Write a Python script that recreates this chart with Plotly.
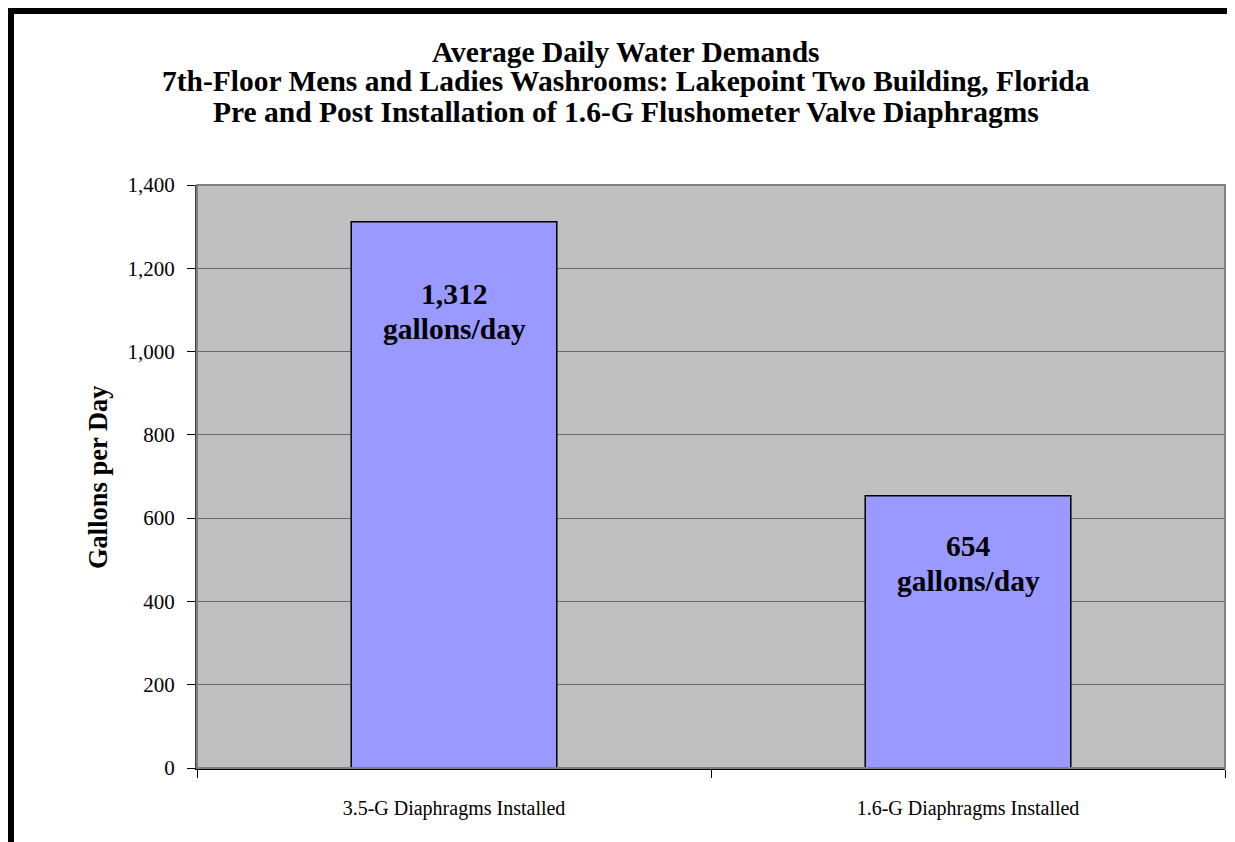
import plotly.graph_objects as go

categories = ["3.5-G Diaphragms Installed", "1.6-G Diaphragms Installed"]
values = [1312, 654]
value_labels = ["1,312", "654"]
unit_label = "gallons/day"
y_ticks = [0, 200, 400, 600, 800, 1000, 1200, 1400]
y_tick_labels = ["0", "200", "400", "600", "800", "1,000", "1,200", "1,400"]

title_lines = [
    "Average Daily Water Demands",
    "7th-Floor Mens and Ladies Washrooms: Lakepoint Two Building, Florida",
    "Pre and Post Installation of 1.6-G Flushometer Valve Diaphragms",
]

# page has an 8px body margin; figure sized to fit the window
OFF = 8
W, H = 1235 - OFF, 842 - OFF
L, R, T, B = 197 - OFF, 10, 185 - OFF, 74
pw = W - L - R
ph = H - T - B

def px_x(x):
    return (x - OFF - L) / pw

def px_y(y):
    return (H - B - (y - OFF)) / ph

serif = "Liberation Serif, Times New Roman, serif"

fig = go.Figure()
fig.add_trace(go.Bar(
    x=categories, y=values,
    marker=dict(color="#9999FF", line=dict(color="black", width=1.5)),
    width=0.4,
    hoverinfo="skip",
))

value_shift = [-72, -50]
unit_gap = 35
for c, v, t, s in zip(categories, values, value_labels, value_shift):
    fig.add_annotation(x=c, y=v, text="<b>%s</b>" % t, showarrow=False,
                       yshift=s, yanchor="middle",
                       font=dict(family=serif, size=29.5, color="black"))
    fig.add_annotation(x=c, y=v, text="<b>%s</b>" % unit_label, showarrow=False,
                       yshift=s - unit_gap, yanchor="middle",
                       font=dict(family=serif, size=29.5, color="black"))

title_y = [52, 81, 112]
for line, ty in zip(title_lines, title_y):
    fig.add_annotation(xref="paper", yref="paper", x=px_x(626), y=px_y(ty),
                       text="<b>%s</b>" % line, showarrow=False,
                       xanchor="center", yanchor="middle",
                       font=dict(family=serif, size=29.5, color="black"))

# y-axis title
fig.add_annotation(xref="paper", yref="paper", x=px_x(98), y=px_y(477),
                   text="<b>Gallons per Day</b>", showarrow=False, textangle=-90,
                   xanchor="center", yanchor="middle",
                   font=dict(family=serif, size=26.5, color="black"))

# plot area border (top/right gray)
fig.add_shape(type="rect", xref="paper", yref="paper", x0=0, x1=1, y0=0, y1=1,
              line=dict(color="#808080", width=2), layer="above")
# outer chart border
fig.add_shape(type="rect", xref="paper", yref="paper",
              x0=px_x(11), x1=px_x(1260),
              y0=px_y(870), y1=px_y(11),
              line=dict(color="black", width=6), layer="above")

fig.update_layout(
    width=W, height=H,
    margin=dict(l=L, r=R, t=T, b=B, pad=0),
    paper_bgcolor="white", plot_bgcolor="#C0C0C0",
    showlegend=False,
    font=dict(family=serif, size=21, color="black"),
    bargap=0.6,
)
fig.update_xaxes(
    type="category", tickson="boundaries", ticks="outside", ticklen=8,
    tickcolor="black", tickwidth=1, showline=True, linecolor="black", linewidth=2,
    showgrid=False, tickfont=dict(family=serif, size=20), range=[-0.5, 1.5],
    ticklabelstandoff=21,
)
fig.update_yaxes(
    range=[0, 1400], tickvals=y_ticks, ticktext=y_tick_labels,
    ticks="outside", ticklen=8, tickcolor="black", tickwidth=1,
    showline=True, linecolor="#404040", linewidth=2,
    showgrid=True, gridcolor="#6a6a6a", gridwidth=1,
    zeroline=False, tickfont=dict(family=serif, size=21),
    ticklabelstandoff=8,
)

fig.write_html("out.html")
